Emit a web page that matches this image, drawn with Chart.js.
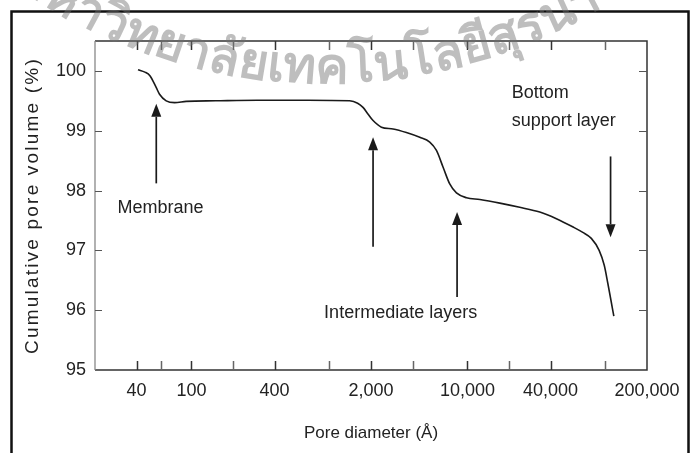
<!DOCTYPE html>
<html>
<head>
<meta charset="utf-8">
<script src="https://cdn.jsdelivr.net/npm/chart.js@4.4.1/dist/chart.umd.min.js"></script>
<style>
  html, body { margin: 0; padding: 0; background: #fff; }
  #wrap { position: relative; width: 691px; height: 453px; }
  canvas { display: block; }
</style>
</head>
<body>
<div id="wrap"><canvas id="chart" width="691" height="453"></canvas></div>
<script>
// Mercury-intrusion curve: pore diameter (Å) vs cumulative pore volume (%)
const poreDiameter = [
  41, 46, 50, 55.6, 58.7, 65.6, 75.5, 91.6, 150, 300, 700, 1400, 1600, 1750,
  1900, 2070, 2380, 2890, 3610, 4510, 5330, 5960, 6660, 7440, 8320, 9840,
  12300, 17150, 23900, 33400, 44100, 58300, 68500, 79000, 90000, 98000,
  104000, 109500, 115000
];
const cumulativeVolume = [
  100.02, 99.98, 99.92, 99.72, 99.61, 99.50, 99.47, 99.49, 99.50, 99.51, 99.51, 99.50, 99.46, 99.39,
  99.28, 99.17, 99.06, 99.03, 98.97, 98.89, 98.81, 98.67, 98.39, 98.11, 97.96, 97.88,
  97.85, 97.79, 97.72, 97.64, 97.53, 97.39, 97.30, 97.20, 97.00, 96.75,
  96.45, 96.17, 95.90
];

// axis ticks
const xLabelTicks = [40, 100, 400, 2000, 10000, 40000, 200000];
const xMinorTicks = [60, 200, 1000, 4000, 20000, 100000];
const yTickValues = [95, 96, 97, 98, 99, 100];

// arrows: x position and the y range they span (head at "to")
const arrowX = [55.6, 2070, 8410, 108900];
const arrowFrom = [98.12, 97.06, 96.22, 98.57];
const arrowTo = [99.45, 98.89, 97.64, 97.22];

// text notes
const noteText = ['Membrane', 'Intermediate layers', 'Bottom', 'support layer'];
const noteX = [59.7, 3280, 20900, 20900];
const noteY = [97.63, 95.87, 99.55, 99.08];
const noteAlign = ['center', 'center', 'left', 'left'];

const FONT = '"Liberation Sans", Arial, Helvetica, sans-serif';

const framePlugin = {
  id: 'frame',
  beforeDraw(chart) {
    const ctx = chart.ctx;
    ctx.save();
    ctx.fillStyle = '#fff';
    ctx.fillRect(0, 0, chart.width, chart.height);
    ctx.strokeStyle = '#111';
    ctx.lineWidth = 2.5;
    ctx.beginPath();
    ctx.moveTo(11.5, 453); ctx.lineTo(11.5, 11.5); ctx.lineTo(688.5, 11.5); ctx.lineTo(688.5, 453);
    ctx.stroke();
    ctx.restore();

    // spaced-out lettering for the vertical axis title
    const ys = chart.scales.y;
    if (ys && !ys._spacedTitle) {
      const orig = ys.drawTitle;
      ys.drawTitle = function () {
        this.ctx.save();
        this.ctx.letterSpacing = '2.2px';
        orig.call(this);
        this.ctx.restore();
      };
      ys._spacedTitle = true;
    }
  }
};

const boxPlugin = {
  id: 'boxTicks',
  afterDatasetsDraw(chart) {
    const {ctx, chartArea: a, scales: {x, y}} = chart;
    ctx.save();
    // plot box
    ctx.lineWidth = 1.5;
    ctx.strokeStyle = '#333';
    ctx.beginPath();
    ctx.moveTo(a.left, a.top); ctx.lineTo(a.right, a.top); ctx.lineTo(a.right, a.bottom); ctx.lineTo(a.left, a.bottom);
    ctx.stroke();
    ctx.strokeStyle = '#888';
    ctx.lineWidth = 1.3;
    ctx.beginPath(); ctx.moveTo(a.left, a.top); ctx.lineTo(a.left, a.bottom); ctx.stroke();

    // inward tick marks on all four sides
    const xt = xLabelTicks.filter(v => v < 200000).map(v => [v, '#333']).concat(xMinorTicks.map(v => [v, '#666']));
    ctx.lineWidth = 1.5;
    for (const [v, col] of xt) {
      const px = Math.round(x.getPixelForValue(v)) + 0.5;
      ctx.strokeStyle = col;
      ctx.beginPath();
      ctx.moveTo(px, a.bottom); ctx.lineTo(px, a.bottom - 9);
      ctx.moveTo(px, a.top); ctx.lineTo(px, a.top + 9);
      ctx.stroke();
    }
    ctx.strokeStyle = '#555';
    ctx.lineWidth = 1.2;
    for (const v of yTickValues.slice(1)) {
      const py = Math.round(y.getPixelForValue(v)) + 0.5;
      ctx.beginPath();
      ctx.moveTo(a.left, py); ctx.lineTo(a.left + 7, py);
      ctx.moveTo(a.right, py); ctx.lineTo(a.right - 8, py);
      ctx.stroke();
    }
    ctx.restore();
  },
  afterDraw(chart) {
    const {ctx, scales: {x, y}} = chart;
    ctx.save();
    // arrows
    ctx.strokeStyle = '#1a1a1a';
    ctx.fillStyle = '#1a1a1a';
    ctx.lineWidth = 1.7;
    for (let i = 0; i < arrowX.length; i++) {
      const px = x.getPixelForValue(arrowX[i]);
      const p0 = y.getPixelForValue(arrowFrom[i]);
      const p1 = y.getPixelForValue(arrowTo[i]);
      const dir = p1 < p0 ? -1 : 1;
      const head = 13;
      ctx.beginPath();
      ctx.moveTo(px, p0); ctx.lineTo(px, p1 - dir * head);
      ctx.stroke();
      ctx.beginPath();
      ctx.moveTo(px, p1);
      ctx.lineTo(px - 5, p1 - dir * head);
      ctx.lineTo(px + 5, p1 - dir * head);
      ctx.closePath();
      ctx.fill();
    }
    // notes
    ctx.font = '18px ' + FONT;
    ctx.fillStyle = '#222';
    ctx.textBaseline = 'alphabetic';
    for (let i = 0; i < noteText.length; i++) {
      ctx.textAlign = noteAlign[i];
      ctx.fillText(noteText[i], x.getPixelForValue(noteX[i]), y.getPixelForValue(noteY[i]));
    }
    ctx.restore();

    // university watermark, set along a circular arc
    ctx.save();
    const text = 'มหาวิทยาลัยเทคโนโลยีสุรนารี';
    ctx.font = 'bold 50px "Noto Sans", "DejaVu Sans", sans-serif';
    ctx.fillStyle = 'rgba(110,110,110,0.45)';
    ctx.textAlign = 'left';
    ctx.textBaseline = 'alphabetic';
    const parts = (typeof Intl !== 'undefined' && Intl.Segmenter)
      ? Array.from(new Intl.Segmenter('th', {granularity: 'grapheme'}).segment(text), s => s.segment)
      : Array.from(text);
    const cx = 325, cy = -457, R = 540;
    let theta = Math.acos((95 - cx) / R) + ctx.measureText('มหา').width / R;
    for (const p of parts) {
      const w = ctx.measureText(p).width;
      ctx.save();
      ctx.translate(cx + R * Math.cos(theta), cy + R * Math.sin(theta));
      ctx.rotate(theta - Math.PI / 2);
      ctx.fillText(p, 0, 0);
      ctx.restore();
      theta -= w / R;
    }
    ctx.restore();
  }
};

new Chart(document.getElementById('chart'), {
  type: 'line',
  data: {
    datasets: [{
      data: poreDiameter.map((d, i) => ({x: d, y: cumulativeVolume[i]})),
      borderColor: '#1a1a1a',
      borderWidth: 1.6,
      pointRadius: 0,
      cubicInterpolationMode: 'monotone',
      fill: false
    }]
  },
  options: {
    responsive: false,
    animation: false,
    devicePixelRatio: 1,
    layout: {padding: {top: 41, right: 44, bottom: 0, left: 0}},
    plugins: {legend: {display: false}, tooltip: {enabled: false}},
    scales: {
      x: {
        type: 'logarithmic',
        min: 20,
        max: 200000,
        bounds: 'data',
        grid: {display: false, drawTicks: false},
        border: {display: false},
        afterBuildTicks: s => { s.ticks = xLabelTicks.map(v => ({value: v})); },
        afterFit: s => { s.height = 83; s.paddingLeft = 0; s.paddingRight = 0; },
        ticks: {
          autoSkip: false,
          maxRotation: 0,
          padding: 10,
          color: '#222',
          font: {family: FONT, size: 18},
          callback: v => Number(v).toLocaleString('en-US')
        },
        title: {
          display: true,
          text: 'Pore diameter (Å)',
          color: '#222',
          font: {family: FONT, size: 17},
          padding: {top: 0, bottom: 9}
        }
      },
      y: {
        type: 'linear',
        min: 95,
        max: 100.5,
        bounds: 'data',
        grid: {display: false, drawTicks: false},
        border: {display: false},
        afterBuildTicks: s => { s.ticks = yTickValues.map(v => ({value: v})); },
        afterFit: s => { s.width = 95; s.paddingTop = 0; s.paddingBottom = 0; },
        ticks: {
          padding: 9,
          color: '#222',
          font: {family: FONT, size: 18},
          callback: v => String(v)
        },
        title: {
          display: true,
          text: 'Cumulative pore volume (%)',
          color: '#222',
          font: {family: FONT, size: 19},
          padding: {top: 21, bottom: 0}
        }
      }
    }
  },
  plugins: [framePlugin, boxPlugin]
});
</script>
</body>
</html>
